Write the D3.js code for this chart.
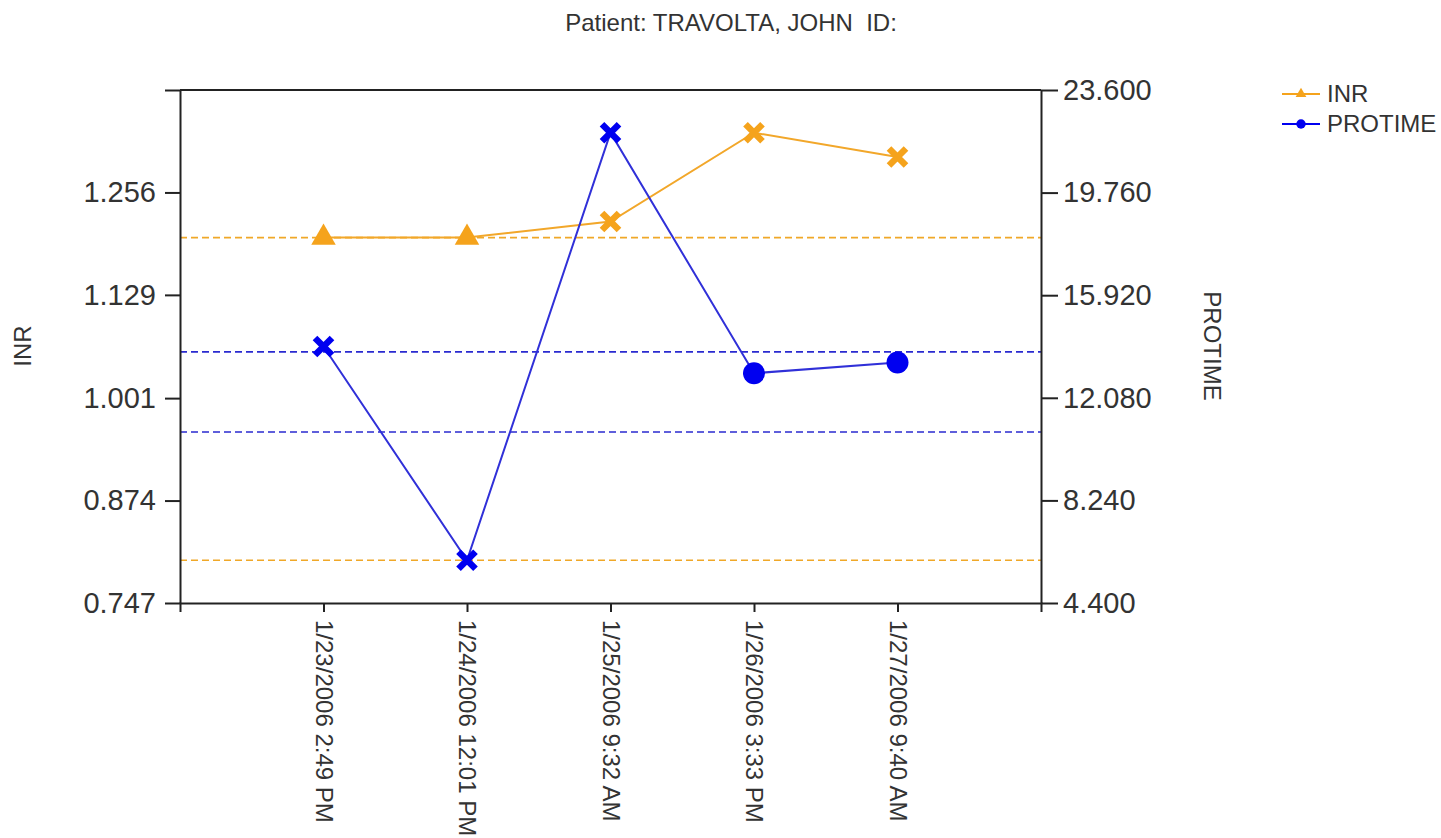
<!DOCTYPE html>
<html>
<head>
<meta charset="utf-8">
<script src="https://cdn.jsdelivr.net/npm/d3@7"></script>
<style>
    body { margin: 0; background: #fff; }
    text { font-family: "Liberation Sans", Arial, sans-serif; fill: #333; }
</style>
</head>
<body>
<div class="chart"></div>
<script>
const dates = ["1/23/2006 2:49 PM", "1/24/2006 12:01 PM", "1/25/2006 9:32 AM", "1/26/2006 3:33 PM", "1/27/2006 9:40 AM"];
const inr = [1.20, 1.20, 1.22, 1.33, 1.30];
const protime = [14.0, 6.0, 22.0, 13.0, 13.4];
const inrLimits = [0.8, 1.2];
const protimeLimits = [10.8, 13.8];
const inrTicks = [0.747, 0.874, 1.001, 1.129, 1.256, 1.383];
const protimeTicks = [4.4, 8.24, 12.08, 15.92, 19.76, 23.6];

function drawChart() {
    const width = 1441, height = 838;
    const margin = { top: 90, left: 180, right: 400, bottom: 235 };
    const orange = "#f5a31c", blue = "#0000f0";

    const svg = d3.select(".chart").append("svg")
        .attr("width", width)
        .attr("height", height);

    const x = d3.scalePoint()
        .domain(dates)
        .range([margin.left, width - margin.right])
        .padding(1);

    const yInr = d3.scaleLinear()
        .domain([inrTicks[0], inrTicks[inrTicks.length - 1]])
        .range([height - margin.bottom, margin.top]);

    const yPro = d3.scaleLinear()
        .domain([protimeTicks[0], protimeTicks[protimeTicks.length - 1]])
        .range([height - margin.bottom, margin.top]);

    const x0 = margin.left, x1 = width - margin.right;

    // title (keep the double space)
    svg.append("text")
        .attr("x", 731)
        .attr("y", 31)
        .attr("text-anchor", "middle")
        .style("font-size", "24px")
        .style("white-space", "pre")
        .text("Patient: TRAVOLTA, JOHN  ID:");

    // top frame line
    svg.append("line")
        .attr("x1", x0).attr("x2", x1)
        .attr("y1", margin.top).attr("y2", margin.top)
        .attr("stroke", "#222").attr("stroke-width", 2);

    // limit lines
    const limits = [
        ...inrLimits.map(v => ({ y: yInr(v), color: "#f0a828" })),
        ...protimeLimits.map(v => ({ y: yPro(v), color: "#2a2ad0" }))
    ];
    svg.append("g").selectAll("line")
        .data(limits)
        .enter()
        .append("line")
        .attr("x1", x0).attr("x2", x1)
        .attr("y1", d => d.y).attr("y2", d => d.y)
        .attr("stroke", d => d.color)
        .attr("stroke-width", 1.6)
        .attr("stroke-dasharray", "7,4");

    // axes
    const leftAxis = svg.append("g")
        .attr("transform", `translate(${x0},0)`)
        .call(d3.axisLeft(yInr)
            .tickValues(inrTicks)
            .tickFormat((d, i) => i === inrTicks.length - 1 ? "" : d3.format(".3f")(d))
            .tickSize(15).tickSizeOuter(0).tickPadding(9));

    const rightAxis = svg.append("g")
        .attr("transform", `translate(${x1},0)`)
        .call(d3.axisRight(yPro)
            .tickValues(protimeTicks)
            .tickFormat(d3.format(".3f"))
            .tickSize(17).tickSizeOuter(0).tickPadding(5));

    const bottomAxis = svg.append("g")
        .attr("transform", `translate(0,${height - margin.bottom})`)
        .call(d3.axisBottom(x).tickSize(9).tickSizeOuter(9).tickPadding(8));

    bottomAxis.selectAll("text")
        .attr("transform", "rotate(90)")
        .attr("x", 17)
        .attr("y", 0)
        .attr("dy", "0.35em")
        .style("text-anchor", "start")
        .style("font-size", "24px");

    [leftAxis, rightAxis].forEach(g => g.selectAll("text").style("font-size", "29px"));
    [leftAxis, rightAxis, bottomAxis].forEach(g => {
        g.selectAll("path, line").attr("stroke", "#222").attr("stroke-width", 2);
        g.selectAll("text").attr("fill", "#333");
    });

    // axis titles
    svg.append("text")
        .attr("transform", "translate(31,346) rotate(-90)")
        .attr("text-anchor", "middle")
        .style("font-size", "24px")
        .text("INR");

    svg.append("text")
        .attr("transform", "translate(1204,346) rotate(90)")
        .attr("text-anchor", "middle")
        .style("font-size", "24px")
        .text("PROTIME");

    // series
    const series = [
        { name: "INR", values: inr, y: yInr, limits: inrLimits, color: orange, line: "#f2a72a", symbol: d3.symbolTriangle, size: 260 },
        { name: "PROTIME", values: protime, y: yPro, limits: protimeLimits, color: blue, line: "#3030d8", symbol: d3.symbolCircle, size: 380 }
    ];

    const line = d3.line();

    series.forEach(s => {
        const pts = s.values.map((v, i) => [x(dates[i]), s.y(v)]);

        svg.append("path")
            .attr("d", line(pts))
            .attr("fill", "none")
            .attr("stroke", s.line)
            .attr("stroke-width", 2);

        const marks = svg.append("g").selectAll("g")
            .data(s.values.map((v, i) => ({ v, px: pts[i][0], py: pts[i][1] })))
            .enter()
            .append("g")
            .attr("transform", d => `translate(${d.px},${d.py})`);

        // out-of-range values get an X
        marks.each(function(d) {
            const g = d3.select(this);
            if (d.v >= s.limits[0] && d.v <= s.limits[1]) {
                g.append("path")
                    .attr("d", d3.symbol(s.symbol, s.size)())
                    .attr("fill", s.color);
            } else {
                g.append("path")
                    .attr("d", "M-8.5,-8.5L8.5,8.5M-8.5,8.5L8.5,-8.5")
                    .attr("stroke", s.color)
                    .attr("stroke-width", 6.5)
                    .attr("fill", "none");
            }
        });
    });

    // legend
    const legend = svg.append("g")
        .selectAll("g")
        .data(series)
        .enter()
        .append("g")
        .attr("transform", (d, i) => `translate(1282,${94 + i * 30})`);

    legend.append("line")
        .attr("x1", 0).attr("x2", 38)
        .attr("stroke", d => d.color)
        .attr("stroke-width", 2);

    legend.append("path")
        .attr("transform", "translate(19,0)")
        .attr("d", d => d3.symbol(d.symbol, d.name === "INR" ? 50 : 70)())
        .attr("fill", d => d.color);

    legend.append("text")
        .attr("x", 45)
        .attr("dy", "0.35em")
        .style("font-size", "24px")
        .text(d => d.name);
}

drawChart();
</script>
</body>
</html>
